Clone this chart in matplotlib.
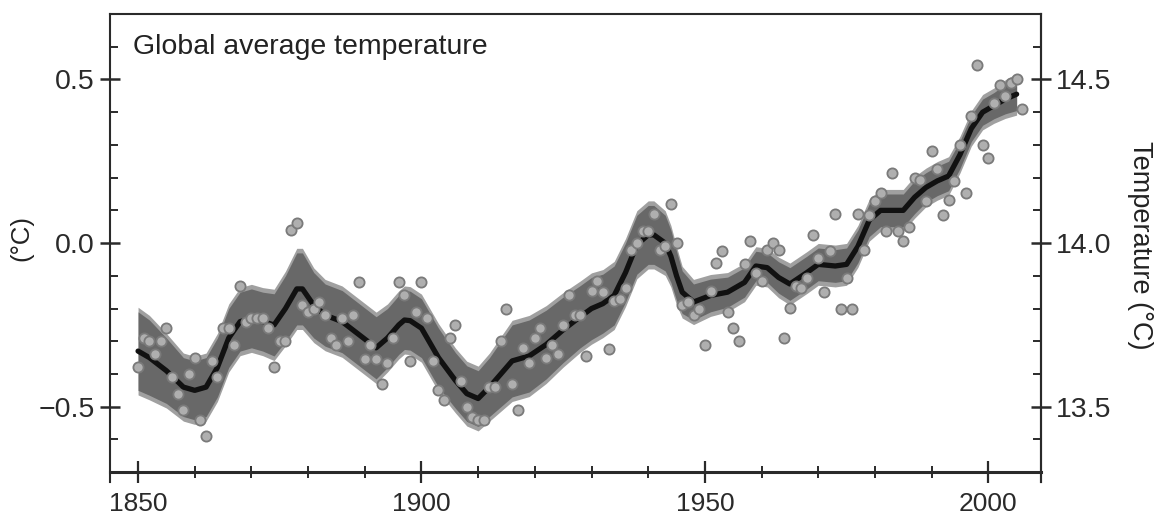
import numpy as np
import matplotlib
matplotlib.use("Agg")
import matplotlib.pyplot as plt
from matplotlib.ticker import FixedLocator, MultipleLocator

# ---------------- data ----------------
years = list(range(1850, 2007))
anomaly = [
    -0.38, -0.29, -0.30, -0.34, -0.30, -0.26, -0.41, -0.46, -0.51, -0.40,   # 1850-1859
    -0.35, -0.54, -0.59, -0.36, -0.41, -0.26, -0.26, -0.31, -0.13, -0.24,   # 1860-1869
    -0.23, -0.23, -0.23, -0.26, -0.38, -0.30, -0.30, 0.04, 0.06, -0.19,     # 1870-1879
    -0.21, -0.20, -0.18, -0.22, -0.29, -0.31, -0.23, -0.30, -0.22, -0.12,   # 1880-1889
    -0.355, -0.31, -0.355, -0.43, -0.365, -0.29, -0.12, -0.16, -0.36, -0.21,  # 1890-1899
    -0.12, -0.23, -0.36, -0.45, -0.48, -0.29, -0.25, -0.42, -0.50, -0.53,   # 1900-1909
    -0.54, -0.54, -0.44, -0.44, -0.30, -0.20, -0.43, -0.51, -0.32, -0.365,  # 1910-1919
    -0.29, -0.26, -0.35, -0.31, -0.34, -0.25, -0.16, -0.22, -0.22, -0.345,  # 1920-1929
    -0.146, -0.116, -0.15, -0.325, -0.177, -0.17, -0.136, -0.02, 0.0, 0.037,  # 1930-1939
    0.037, 0.09, -0.02, -0.01, 0.118, 0.0, -0.19, -0.18, -0.22, -0.20,      # 1940-1949
    -0.31, -0.146, -0.06, -0.024, -0.21, -0.26, -0.30, -0.065, 0.006, -0.09,  # 1950-1959
    -0.116, -0.02, 0.0, -0.02, -0.29, -0.197, -0.13, -0.136, -0.106, 0.026,   # 1960-1969
    -0.045, -0.15, -0.024, 0.09, -0.20, -0.106, -0.20, 0.09, -0.02, 0.087,    # 1970-1979
    0.128, 0.153, 0.037, 0.214, 0.037, 0.006, 0.05, 0.20, 0.194, 0.128,       # 1980-1989
    0.28, 0.225, 0.087, 0.133, 0.19, 0.30, 0.153, 0.387, 0.545, 0.30,         # 1990-1999
    0.26, 0.428, 0.484, 0.45, 0.49, 0.50, 0.41,                               # 2000-2006
]

smooth_years = [1850, 1852, 1855, 1858, 1860, 1862, 1864, 1866, 1868, 1870,
                1872, 1874, 1876, 1878, 1879, 1881, 1883, 1886, 1889, 1892,
                1894, 1896, 1897, 1898, 1900, 1903, 1906, 1908, 1910, 1912,
                1914, 1916, 1919, 1922, 1925, 1928, 1930, 1932, 1934, 1936,
                1938, 1940, 1941, 1943, 1944, 1945, 1946, 1948, 1951, 1954,
                1957, 1959, 1961, 1963, 1965, 1968, 1970, 1973, 1975, 1977,
                1979, 1981, 1983, 1985, 1987, 1989, 1991, 1993, 1995, 1997,
                1999, 2001, 2003, 2005]
smooth_values = [-0.33, -0.35, -0.39, -0.44, -0.45, -0.44, -0.38, -0.29, -0.24, -0.23,
                 -0.24, -0.25, -0.20, -0.14, -0.14, -0.19, -0.22, -0.24, -0.28, -0.32,
                 -0.29, -0.25, -0.235, -0.237, -0.26, -0.35, -0.42, -0.46, -0.475, -0.44,
                 -0.40, -0.36, -0.345, -0.31, -0.265, -0.225, -0.20, -0.185, -0.16, -0.09,
                 -0.005, 0.025, 0.025, 0.0, -0.04, -0.10, -0.15, -0.18, -0.16, -0.15,
                 -0.12, -0.07, -0.075, -0.105, -0.125, -0.09, -0.065, -0.07, -0.065, -0.01,
                 0.07, 0.10, 0.10, 0.10, 0.14, 0.17, 0.19, 0.205, 0.27, 0.35,
                 0.40, 0.42, 0.44, 0.455]
band_half = [0.12, 0.115, 0.10, 0.09, 0.09, 0.09, 0.09, 0.09, 0.09, 0.09,
             0.09, 0.095, 0.10, 0.11, 0.11, 0.10, 0.095, 0.095, 0.095, 0.095,
             0.09, 0.09, 0.09, 0.09, 0.09, 0.09, 0.085, 0.085, 0.085, 0.09,
             0.10, 0.11, 0.11, 0.105, 0.10, 0.095, 0.095, 0.09, 0.09, 0.09,
             0.09, 0.09, 0.09, 0.085, 0.08, 0.075, 0.065, 0.055, 0.05, 0.046,
             0.045, 0.045, 0.045, 0.048, 0.05, 0.05, 0.05, 0.05, 0.05, 0.05,
             0.05, 0.05, 0.05, 0.05, 0.05, 0.045, 0.045, 0.045, 0.042, 0.04,
             0.04, 0.04, 0.045, 0.05]

x_major = [1850, 1900, 1950, 2000]
left_ticks = [-0.5, 0.0, 0.5]
left_labels = ["\u22120.5", "0.0", "0.5"]
right_ticks = [13.5, 14.0, 14.5]
right_labels = ["13.5", "14.0", "14.5"]
baseline = 14.0
title = "Global average temperature"
left_ylabel = "(°C)"
right_ylabel = "Temperature (°C)"

# ---------------- figure ----------------
plt.rcParams["font.family"] = ["Liberation Sans", "DejaVu Sans"]
W, H = 1165, 522
fig = plt.figure(figsize=(W / 100, H / 100), dpi=100)
ax = fig.add_axes([110 / W, 1 - 482 / H, 931 / W, 468 / H])

sy = np.array(smooth_years, dtype=float)
sv = np.array(smooth_values)
hw = np.array(band_half)

ax.fill_between(sy, sv - hw - 0.014, sv + hw + 0.014, color="#a0a0a0", lw=0, zorder=1)
ax.fill_between(sy, sv - hw, sv + hw, color="#686868", lw=0, zorder=2)
ax.plot(sy, sv, color="#111111", lw=3.8, zorder=3, solid_capstyle="round",
        solid_joinstyle="round")
ax.scatter(years, anomaly, s=54, facecolor="#afafaf", edgecolor="#7a7a7a",
           linewidths=1.3, zorder=4)

ax.set_xlim(1845.05, 2009.3)
ax.set_ylim(-0.73, 0.70)

tick_color = "#2a2a2a"
for s in ["left", "right", "top", "bottom"]:
    ax.spines[s].set_color(tick_color)
    ax.spines[s].set_linewidth(1.5)
ax.spines["bottom"].set_position(("data", -0.70))
ax.spines["bottom"].set_linewidth(2.2)

ax.xaxis.set_major_locator(FixedLocator(x_major))
ax.xaxis.set_minor_locator(MultipleLocator(10))
ax.tick_params(axis="x", which="major", direction="inout", length=16, width=1.6,
               pad=6, labelsize=19, colors=tick_color)
ax.tick_params(axis="x", which="minor", direction="inout", length=9, width=1.4,
               colors=tick_color)

ax.yaxis.set_major_locator(FixedLocator(left_ticks))
ax.set_yticklabels(left_labels)
ax.yaxis.set_minor_locator(MultipleLocator(0.1))
ax.tick_params(axis="y", which="major", direction="inout", length=14, width=1.8,
               pad=4, labelsize=20.5, colors=tick_color)
ax.tick_params(axis="y", which="minor", direction="in", length=6, width=1.4,
               colors=tick_color)

ax2 = ax.twinx()
ax2.set_ylim(baseline - 0.73, baseline + 0.70)
for s in ["left", "top", "bottom"]:
    ax2.spines[s].set_visible(False)
ax2.spines["right"].set_color(tick_color)
ax2.spines["right"].set_linewidth(1.5)
ax2.yaxis.set_major_locator(FixedLocator(right_ticks))
ax2.set_yticklabels(right_labels)
ax2.yaxis.set_minor_locator(MultipleLocator(0.1))
ax2.tick_params(axis="y", which="major", direction="inout", length=14, width=1.8,
                pad=4, labelsize=20.5, colors=tick_color)
ax2.tick_params(axis="y", which="minor", direction="in", length=6, width=1.4,
                colors=tick_color)

ax.text((133 - 110) / 931, (482 - 47) / 468, title, transform=ax.transAxes,
        ha="left", va="center", fontsize=20.5, color="#222222")
fig.text(21 / W, 1 - 238 / H, left_ylabel, rotation=90, ha="center", va="center",
         fontsize=18.5, color="#222222")
fig.text(1140 / W, 1 - 245 / H, right_ylabel, rotation=270, ha="center", va="center",
         fontsize=19.5, color="#222222")

fig.savefig("out.png", dpi=100)
